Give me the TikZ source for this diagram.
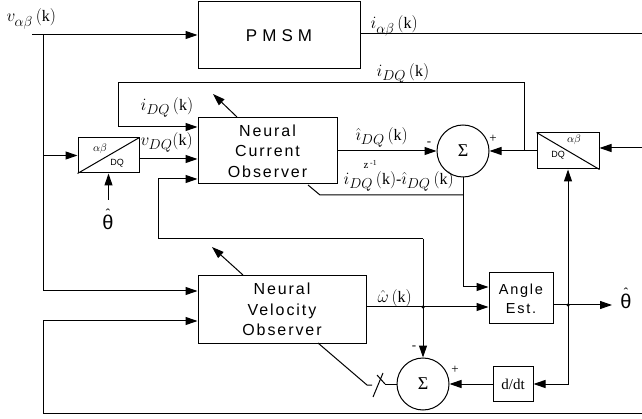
\documentclass[tikz,border=0pt]{standalone}
\usepackage{amsmath}
\usepackage{fontspec}
\setmainfont{Liberation Serif}
\newfontfamily\blockfont[LetterSpace=12]{Liberation Sans}
\newfontfamily\pmsmfont[LetterSpace=30]{Liberation Sans}
\newfontfamily\plainsans{Liberation Sans}
\DeclareMathSizes{16}{16}{13.5}{10}
\usetikzlibrary{arrows.meta,calc}
\tikzset{
  blk/.style={draw, rectangle, inner sep=0pt, align=center, font=\blockfont\fontsize{16}{20.5}\selectfont},
  convbox/.style={draw, rectangle, inner sep=0pt, minimum width=61pt, minimum height=35pt},
  sumc/.style={draw, circle, minimum size=52pt, inner sep=0pt, font=\fontsize{18}{18}\selectfont},
  lbl/.style={font=\fontsize{16}{18}\selectfont, inner sep=0pt, anchor=base west},
  sgn/.style={font=\fontsize{13}{13}\selectfont, inner sep=0pt},
  thlbl/.style={font=\plainsans\fontsize{20}{20}\selectfont, inner sep=0pt, align=center},
  jdot/.style={circle, fill, inner sep=0pt, minimum size=3.5pt},
  ab/.style={font=\fontsize{11}{11}\selectfont, inner sep=0pt},
  dq/.style={font=\plainsans\fontsize{9}{9}\selectfont, inner sep=0pt}
}
\begin{document}
\begin{tikzpicture}[x=1pt,y=-1pt,line width=1pt,>={Triangle[length=12pt,width=8pt]}]
\useasboundingbox (0,0) rectangle (642,419);

% ---- blocks
\node[blk, font=\pmsmfont\fontsize{17}{17}\selectfont, minimum width=162pt, minimum height=67pt] (pmsm) at (279,35.5) {PMSM};
\node[blk, minimum width=139pt, minimum height=66pt] (nco) at (267.5,151) {Neural\\Current\\Observer};
\node[blk, minimum width=168pt, minimum height=67pt] (nvo) at (282,309.5) {Neural\\Velocity\\Observer};
\node[blk, font=\blockfont\fontsize{14.5}{19}\selectfont, minimum width=64pt, minimum height=51pt] (ang) at (521,298.5) {Angle\\Est.};
\node[draw, inner sep=0pt, minimum width=40pt, minimum height=35pt, font=\fontsize{15}{15}\selectfont] (ddt) at (513,384) {d/dt};
\node[convbox] (c1) at (108.5,155.5) {};
\node[convbox, minimum width=62pt, minimum height=36pt] (c2) at (568,151) {};
\draw (c1.south west) -- (c1.north east);
\draw (c2.north west) -- (c2.south east);
\node[ab] (c1ab) at (100,149) {$\alpha\beta$};
\node[dq] (c1dq) at (117,163) {DQ};
\node[ab] (c2ab) at (574,140) {$\alpha\beta$};
\node[dq] (c2dq) at (558,155) {DQ};
\node[sumc] (s1) at (463,151) {Σ};
\node[sumc] (s2) at (423,384) {Σ};

% ---- input v_alpha_beta
\coordinate (vin) at (32,35);
\coordinate (vj) at (43,35);
\coordinate (vc) at (43,155.5);
\coordinate (vb) at (43,291);
\draw[->] (vin) -- (vin -| pmsm.west);
\draw (vj) -- (vb);
\draw[->] (vb) -- (vb -| nvo.west);
\draw[->] (vc) -- (c1.west);
\node[lbl] (lvab) at (6,22) {$v_{\alpha\beta}\,(\mathrm{k})$};

% ---- PMSM output
\coordinate (iab) at (642,34);
\draw (pmsm.east |- iab) -- (iab);
\node[lbl] (liab) at (370,29) {$i_{\alpha\beta}\,(\mathrm{k})$};

% ---- right transform
\coordinate (iin) at (642,148);
\draw[->] (iin) -- (iin -| c2.east);
\draw[->] (c2.west) -- (s1.east);
\coordinate (jq) at (524,151);
\coordinate (q1) at (118,127);
\draw[->] (jq) -- (524,83) -- (118,83) -- (q1) -- (q1 -| nco.west);
\node[lbl] (lidq1) at (376,77) {$i_{DQ}\,(\mathrm{k})$};
\node[lbl] (lidq2) at (140,111) {$i_{DQ}\,(\mathrm{k})$};
\coordinate (la1s) at (237,117);
\coordinate (la1e) at (213,94);
\draw[->] (la1s) -- (la1e);

% ---- left transform
\path (c1.east) ++(0,3.5) coordinate (c1o);
\draw[->] (c1o) -- (c1o -| nco.west);
\node[lbl] (lvdq) at (140,146) {$v_{DQ}(\mathrm{k})$};
\coordinate (th1) at (108.5,200);
\draw[->] (th1) -- (c1.south);
\node[thlbl] (lth1) at (108,219) {{\fontsize{13}{13}\selectfont ˆ}\\[-9pt]θ};

% ---- current estimate to sum 1
\draw[->] (nco.east) -- (s1.west);
\node[lbl] (lhidq) at (355,141) {$\hat{\imath}_{DQ}\,(\mathrm{k})$};
\node[anchor=base west, inner sep=0pt, font=\fontsize{11}{11}\selectfont] (lz) at (363,169) {z\,\textsuperscript{-1}};
\node[sgn] (s1m) at (429,144) {-};
\node[sgn] (s1p) at (493,139) {+};

% ---- error
\coordinate (e1) at (463,195);
\coordinate (e2) at (463,287);
\draw[->] (s1.south) -- (e2) -- (e2 -| ang.west);
\draw (e1) -- (320,195) -- (308,185);
\node[lbl] (lerr) at (343,185) {$i_{DQ}\,(\mathrm{k})$-$\hat{\imath}_{DQ}\,(\mathrm{k})$};

% ---- omega
\coordinate (wj) at (423,307);
\coordinate (wt) at (423,239);
\coordinate (n3) at (158,179);
\draw[->] (wj -| nvo.east) -- (wj -| ang.west);
\draw[->] (wt) -- (s2.north);
\draw[->] (wt) -- (wt -| n3) -- (n3) -- (n3 -| nco.west);
\node[jdot] (dw) at (wj) {};
\node[lbl] (lw) at (377,303) {$\hat{\omega}\,(\mathrm{k})$};
\coordinate (la2s) at (243,275);
\coordinate (la2e) at (212,247);
\draw[->] (la2s) -- (la2e);

% ---- angle output
\coordinate (tj) at (568,305);
\coordinate (tout) at (612,305);
\coordinate (tb) at (568,384);
\draw[->] (tj -| ang.east) -- (tout);
\node[jdot] (dt) at (tj) {};
\node[thlbl] (lth2) at (626,298) {{\fontsize{13}{13}\selectfont ˆ}\\[-9pt]θ};
\draw[<->] (c2.south) -- (tb) -- (ddt.east);
\draw[->] (ddt.west) -- (s2.east);
\node[sgn] (s2m) at (414,348) {-};
\node[sgn] (s2p) at (455,370) {+};

% ---- switch
\coordinate (sw0) at (318,343);
\coordinate (sw1) at (367,385);
\coordinate (sw2) at (372,385);
\coordinate (sw3) at (385,384);
\draw (sw0) -- (sw1) -- (sw2);
\draw (373,397) -- (383,373);
\draw (377,375) -- (sw3);
\draw (sw3) -- (s2.west);

% ---- bottom feedback
\coordinate (b1) at (43,321);
\coordinate (b2) at (43,413);
\coordinate (b3) at (642,413);
\draw[->] (b3) -- (b2) -- (b1) -- (b1 -| nvo.west);
\end{tikzpicture}
\end{document}
